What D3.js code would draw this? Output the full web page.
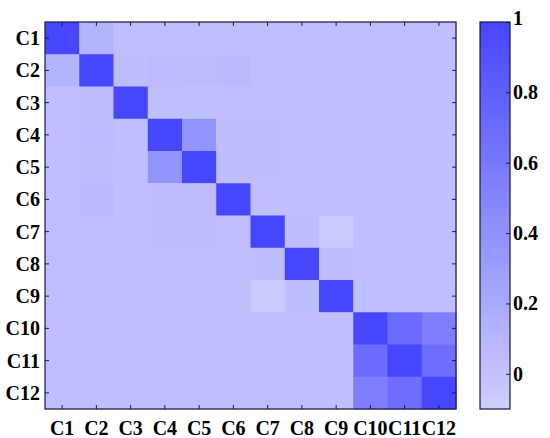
<!DOCTYPE html>
<html>
<head>
<meta charset="utf-8">
<script src="https://cdn.jsdelivr.net/npm/d3@7"></script>
<style>
html,body{margin:0;padding:0;background:#fff;}
</style>
</head>
<body>
<svg id="chart" width="550" height="438"></svg>
<script>
const categories = ["C1","C2","C3","C4","C5","C6","C7","C8","C9","C10","C11","C12"];
const matrix = [
  [1.00, 0.12, 0.03, 0.03, 0.03, 0.03, 0.03, 0.03, 0.03, 0.03, 0.03, 0.03],
  [0.12, 1.00, 0.04, 0.06, 0.05, 0.07, 0.03, 0.03, 0.03, 0.03, 0.03, 0.03],
  [0.03, 0.04, 1.00, 0.03, 0.03, 0.03, 0.03, 0.03, 0.03, 0.03, 0.03, 0.03],
  [0.03, 0.06, 0.03, 1.00, 0.38, 0.04, 0.04, 0.03, 0.03, 0.03, 0.03, 0.03],
  [0.03, 0.05, 0.03, 0.38, 1.00, 0.04, 0.04, 0.03, 0.03, 0.03, 0.03, 0.03],
  [0.03, 0.07, 0.03, 0.04, 0.04, 1.00, 0.03, 0.03, 0.03, 0.03, 0.03, 0.03],
  [0.03, 0.03, 0.03, 0.04, 0.04, 0.03, 1.00, 0.04, -0.06, 0.03, 0.03, 0.03],
  [0.03, 0.03, 0.03, 0.03, 0.03, 0.03, 0.04, 1.00, 0.04, 0.03, 0.03, 0.03],
  [0.03, 0.03, 0.03, 0.03, 0.03, 0.03, -0.06, 0.04, 1.00, 0.03, 0.03, 0.03],
  [0.03, 0.03, 0.03, 0.03, 0.03, 0.03, 0.03, 0.03, 0.03, 1.00, 0.70, 0.55],
  [0.03, 0.03, 0.03, 0.03, 0.03, 0.03, 0.03, 0.03, 0.03, 0.70, 1.00, 0.68],
  [0.03, 0.03, 0.03, 0.03, 0.03, 0.03, 0.03, 0.03, 0.03, 0.55, 0.68, 1.00]
];
const colorTicks = [0, 0.2, 0.4, 0.6, 0.8, 1];
const colorDomain = [-0.1, 1];

const FONT = "'Liberation Serif', 'Times New Roman', serif";
const svg = d3.select("#chart");
const L = 45, R = 456, T = 22, B = 409;
const x = d3.scaleBand().domain(categories).range([L, R]);
const y = d3.scaleBand().domain(categories).range([T, B]);
const color = d3.scaleLinear().domain(colorDomain).range(["#cfcffd", "#4646fd"]).interpolate(d3.interpolateRgb);

const cells = [];
matrix.forEach((row, i) => row.forEach((v, j) => cells.push({r: categories[i], c: categories[j], v})));
svg.append("g").selectAll("rect").data(cells).join("rect")
  .attr("x", d => x(d.c)).attr("y", d => y(d.r))
  .attr("width", x.bandwidth() + 0.5).attr("height", y.bandwidth() + 0.5)
  .attr("fill", d => color(d.v));

const tickLen = 4;
const axColor = "#1a1a3a";
function styleText(sel) {
  sel.attr("fill", "#000")
    .style("font-family", FONT)
    .style("font-weight", "bold")
    .style("font-size", "20px");
}
const gb = svg.append("g").attr("transform", `translate(0,${B})`)
  .call(d3.axisBottom(x).tickSize(-tickLen).tickPadding(8));
const gt = svg.append("g").attr("transform", `translate(0,${T})`)
  .call(d3.axisTop(x).tickSize(-tickLen).tickFormat(""));
const gl = svg.append("g").attr("transform", `translate(${L},0)`)
  .call(d3.axisLeft(y).tickSize(-tickLen).tickPadding(8));
const gr = svg.append("g").attr("transform", `translate(${R},0)`)
  .call(d3.axisRight(y).tickSize(-tickLen).tickFormat(""));
[gb, gt, gl, gr].forEach(g => {
  g.attr("font-family", FONT).attr("font-size", 20);
  g.select(".domain").remove();
  g.selectAll("line").attr("stroke", axColor).attr("stroke-width", 1);
  styleText(g.selectAll("text"));
});
gb.selectAll("text").attr("y", 10).attr("dy", "0.8em");
gl.selectAll("text").attr("x", -5).attr("dy", "0.35em");
svg.append("rect").attr("x", L).attr("y", T).attr("width", R - L).attr("height", B - T)
  .attr("fill", "none").attr("stroke", axColor).attr("stroke-width", 1.2);

// colorbar
const cbL = 480, cbR = 510;
const cy = d3.scaleLinear().domain(colorDomain).range([B, T]);
const defs = svg.append("defs");
const grad = defs.append("linearGradient").attr("id", "cbgrad").attr("x1", 0).attr("y1", 1).attr("x2", 0).attr("y2", 0);
d3.range(0, 1.0001, 0.1).forEach(t => {
  const v = colorDomain[0] + t * (colorDomain[1] - colorDomain[0]);
  grad.append("stop").attr("offset", t).attr("stop-color", color(v));
});
svg.append("rect").attr("x", cbL).attr("y", T).attr("width", cbR - cbL).attr("height", B - T)
  .attr("fill", "url(#cbgrad)").attr("stroke", axColor).attr("stroke-width", 1.2);
const gc = svg.append("g").attr("transform", `translate(${cbR},0)`)
  .call(d3.axisRight(cy).tickValues(colorTicks).tickSize(-tickLen).tickPadding(6).tickFormat(d => d3.format("")(d)));
gc.attr("font-family", FONT).attr("font-size", 20);
gc.select(".domain").remove();
gc.selectAll("line").attr("stroke", axColor);
styleText(gc.selectAll("text"));
gc.selectAll("text").attr("x", 3);
gc.selectAll(".tick").filter(d => d === 1).select("text").attr("dy", "0.12em");
</script>
</body>
</html>
